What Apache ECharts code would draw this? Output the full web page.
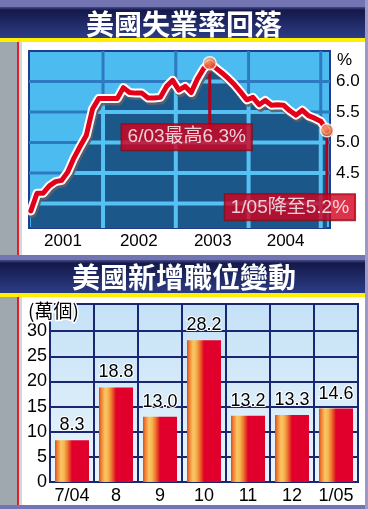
<!DOCTYPE html>
<html><head><meta charset="utf-8">
<script src="https://cdn.jsdelivr.net/npm/echarts@6/dist/echarts.min.js"></script>
<style>html,body{margin:0;padding:0;background:#fff}#c{width:368px;height:509px}</style>
</head><body><div id="c"></div>
<script>
// ---------- data ----------
// monthly unemployment rate (%), index 0 = Jan 2001 ... index 48 = Jan 2005
const rate = [3.88,4.17,4.17,4.29,4.36,4.38,4.52,4.75,4.94,5.12,5.55,5.72,
              5.72,5.72,5.72,5.90,5.82,5.81,5.81,5.73,5.73,5.74,5.92,6.02,
              5.86,5.92,5.82,6.04,6.21,6.30,6.22,6.14,6.05,5.95,5.83,5.70,
              5.74,5.62,5.69,5.61,5.62,5.61,5.52,5.45,5.53,5.44,5.40,5.35,
              5.20];
const years = ['2001','2002','2003','2004'];
const yearLabelAt = [5.2, 17.5, 29.5, 41.3];
const yearGridAt = [11.7, 23.5, 35.3, 47.0];
const rateTicks = [4.0, 4.5, 5.0, 5.5, 6.0];
const rateLabels = [4.5, 5.0, 5.5, 6.0];
const calloutIdx = [29, 48];
const calloutText = ['6/03最高6.3%', '1/05降至5.2%'];
const calloutLineEnd = [5.2, 4.0];

const jobMonths = ['7/04','8','9','10','11','12','1/05'];
const jobs = [8.3, 18.8, 13.0, 28.2, 13.2, 13.3, 14.6];
const jobTicks = [0, 5, 10, 15, 20, 25, 30];

// axis ranges
const xMin = -0.3, xMax = 48.5, rMin = 3.6, rMax = 6.5;

// ---------- helpers ----------
const FF = "'Liberation Sans', Arial, 'Noto Sans CJK TC', sans-serif";
const FFT = "'Noto Sans CJK TC', 'Noto Sans CJK SC', sans-serif";
const rateData = rate.map((v, i) => [i, v]);
function rateAt(x) {
  const i = Math.max(0, Math.min(Math.floor(x), rate.length - 2));
  const t = x - i;
  return rate[i] + (rate[i + 1] - rate[i]) * t;
}
const bandGrad = {type: 'linear', x: 0, y: 0, x2: 0, y2: 1, colorStops: [
  {offset: 0, color: '#454b8a'}, {offset: 0.1, color: '#15194a'}, {offset: 1, color: '#2c3d86'}]};
const lav = '#7374b2';
const bg = (x, y, w, h, fill) => ({type: 'rect', z: -10, silent: true, shape: {x, y, width: w, height: h}, style: {fill}});
const barGrad = {type: 'linear', x: 0, y: 0, x2: 1, y2: 0, colorStops: [
  {offset: 0, color: '#e4481c'}, {offset: 0.08, color: '#ef8a36'}, {offset: 0.18, color: '#f8c866'},
  {offset: 0.27, color: '#f6b44e'}, {offset: 0.36, color: '#ef7a34'}, {offset: 0.44, color: '#e63a22'},
  {offset: 0.5, color: '#e0002b'}, {offset: 1, color: '#e0002b'}]};
const titleStyle = {color: '#ffffff', fontSize: 28, fontWeight: 'bold', fontFamily: FFT,
  textShadowColor: 'rgba(0,0,0,0.85)', textShadowOffsetX: 2, textShadowOffsetY: 2, textShadowBlur: 0};
const frame = [
  bg(0, 0, 368, 509, '#ffffff'), bg(0, 0, 368, 7, lav), bg(0, 7, 368, 31, bandGrad), bg(0, 38, 368, 4, '#fff000'),
  bg(0, 42, 17, 213, '#9fa7af'), bg(17, 42, 2, 213, '#e0202c'), bg(19, 42, 3, 213, '#d3d7db'),
  bg(0, 255, 368, 5, lav), bg(0, 260, 368, 33, bandGrad), bg(0, 293, 368, 4, '#fff000'),
  bg(0, 297, 17, 208, '#9fa7af'), bg(17, 297, 2, 208, '#e0202c'), bg(19, 297, 3, 208, '#d3d7db'),
  bg(0, 505, 368, 4, lav), bg(365, 0, 3, 509, '#9a9bcc')
];

// grid lines of the top chart, drawn as line series on the chart's axes
function seg(points, color, z, w) {
  return {type: 'line', xAxisIndex: 0, yAxisIndex: 0, data: points, symbol: 'none', silent: true, z: z,
    lineStyle: {color: color, width: w}};
}
const darkGrid = [];   // whole plot, seen above the curve
yearGridAt.forEach(g => darkGrid.push(seg([[g, rMin], [g, rMax]], '#2d7ac0', 3, 3)));
rateTicks.forEach(h => darkGrid.push(seg([[xMin, h], [xMax, h]], '#2d7ac0', 3, 3)));
const lightGrid = [];  // only below the curve, seen on the dark area
const cyan = '#55c2f3';
yearGridAt.forEach(g => lightGrid.push(seg([[g, rMin], [g, rateAt(g)]], cyan, 5, 4)));
rateTicks.forEach(h => {
  let s = rate[0] >= h ? 0 : null;
  for (let i = 0; i < rate.length - 1; i++) {
    const a = rate[i], b = rate[i + 1];
    if (a < h && b >= h) s = i + (h - a) / (b - a);
    if (a >= h && b < h && s !== null) {
      const e = i + (a - h) / (a - b);
      lightGrid.push(seg([[s, h], [e, h]], cyan, 5, 4));
      s = null;
    }
  }
  if (s !== null) lightGrid.push(seg([[s, h], [rate.length - 1, h]], cyan, 5, 4));
});

const chart = echarts.init(document.getElementById('c'), null, {renderer: 'canvas'});
chart.setOption({
  animation: false,
  backgroundColor: '#ffffff',
  graphic: frame,
  title: [
    {text: '美國失業率回落', left: 'center', top: 10, padding: 0, textStyle: titleStyle},
    {text: '美國新增職位變動', left: 'center', top: 263, padding: 0, textStyle: titleStyle},
    {text: '%', left: 337, top: 52, padding: 0, textStyle: {color: '#000', fontSize: 17, fontWeight: 'normal', fontFamily: FF}},
    {text: '(萬個)', left: 28, top: 301, padding: 0, z: 20, textStyle: {color: '#000', fontSize: 19, fontWeight: 'normal', fontFamily: FFT,
      textBorderColor: '#ffffff', textBorderWidth: 3}}
  ],
  grid: [
    {left: 29, top: 51, width: 301, height: 177, show: true, backgroundColor: '#4cbcf0',
     borderColor: '#1f3c8e', borderWidth: 2},
    {left: 50, top: 304, width: 308, height: 178, show: true,
     backgroundColor: {type: 'linear', x: 0, y: 0, x2: 0, y2: 1, colorStops: [
       {offset: 0, color: '#c4e1f6'}, {offset: 1, color: '#eaf5fc'}]},
     borderColor: '#1b2670', borderWidth: 2}
  ],
  xAxis: [
    {gridIndex: 0, type: 'value', min: xMin, max: xMax,
     axisLine: {show: false}, axisTick: {show: false}, splitLine: {show: false},
     axisLabel: {customValues: yearLabelAt, margin: 5, color: '#000', fontSize: 17, fontFamily: FF,
       formatter: v => {
         let best = 0;
         yearLabelAt.forEach((p, i) => { if (Math.abs(p - v) < Math.abs(yearLabelAt[best] - v)) best = i; });
         return years[best];
       }}},
    {gridIndex: 1, type: 'category', data: jobMonths, boundaryGap: true,
     axisLine: {show: true, lineStyle: {color: '#1b2670', width: 2}}, axisTick: {show: false},
     splitLine: {show: true, interval: 0, lineStyle: {color: '#1b2670', width: 2}},
     axisLabel: {interval: 0, margin: 5, color: '#000', fontSize: 18, fontFamily: FF}}
  ],
  yAxis: [
    {gridIndex: 0, type: 'value', position: 'right', min: rMin, max: rMax,
     axisLine: {show: false}, axisTick: {show: false}, splitLine: {show: false},
     axisLabel: {customValues: rateLabels, margin: 6, color: '#000', fontSize: 17, fontFamily: FF,
       formatter: v => v.toFixed(1)}},
    {gridIndex: 1, type: 'value', min: 0, max: 35.4,
     axisLine: {show: true, lineStyle: {color: '#1b2670', width: 2}},
     axisTick: {show: false, customValues: jobTicks},
     splitLine: {show: true, lineStyle: {color: '#1b2670', width: 2}},
     axisLabel: {customValues: jobTicks, margin: 3, color: '#000', fontSize: 18, fontFamily: FF}}
  ],
  series: [
    ...darkGrid,
    {type: 'line', xAxisIndex: 0, yAxisIndex: 0, data: rateData, symbol: 'none', z: 4,
     lineStyle: {width: 0}, areaStyle: {color: '#1b5789', opacity: 1, origin: 'start'}, silent: true},
    ...lightGrid,
    {type: 'line', xAxisIndex: 0, yAxisIndex: 0, symbol: 'none', z: 6, silent: true,
     data: [[calloutIdx[0], rate[calloutIdx[0]]], [calloutIdx[0], calloutLineEnd[0]]],
     lineStyle: {color: '#b3001b', width: 3}},
    {type: 'line', xAxisIndex: 0, yAxisIndex: 0, symbol: 'none', z: 6, silent: true,
     data: [[calloutIdx[1], rate[calloutIdx[1]]], [calloutIdx[1], calloutLineEnd[1]]],
     lineStyle: {color: '#b3001b', width: 3}},
    {type: 'line', xAxisIndex: 0, yAxisIndex: 0, data: rateData, symbol: 'none', z: 7, silent: true,
     lineStyle: {color: '#ffffff', width: 9, join: 'round', cap: 'round',
       shadowColor: 'rgba(95,95,105,0.9)', shadowOffsetX: 1.5, shadowOffsetY: 2.5, shadowBlur: 0}},
    {type: 'line', xAxisIndex: 0, yAxisIndex: 0, data: rateData, symbol: 'none', z: 8, silent: true,
     lineStyle: {color: '#e2001a', width: 5, join: 'round', cap: 'round'}},
    {type: 'scatter', xAxisIndex: 0, yAxisIndex: 0, z: 9, symbol: 'circle', symbolSize: 13,
     data: [
       {value: [calloutIdx[0], rate[calloutIdx[0]]], label: {offset: [-23, 74]}},
       {value: [calloutIdx[1], rate[calloutIdx[1]]], label: {offset: [-37, 77]}}
     ],
     itemStyle: {borderColor: '#ffffff', borderWidth: 1.5,
       color: {type: 'radial', x: 0.38, y: 0.35, r: 0.7, colorStops: [
         {offset: 0, color: '#ffb585'}, {offset: 1, color: '#d63a12'}]}},
     label: {show: true, position: 'inside', formatter: p => calloutText[p.dataIndex],
       color: '#ffffff', fontSize: 19, fontFamily: FF, backgroundColor: '#d3001d',
       borderColor: '#7d0a14', borderWidth: 1, padding: [4, 6, 3, 6]}},
    {type: 'bar', xAxisIndex: 1, yAxisIndex: 1, data: jobs, barWidth: 34, z: 3,
     itemStyle: {color: barGrad},
     label: {show: true, position: 'top', distance: 6, color: '#000', fontSize: 18, fontFamily: FF,
       textBorderColor: '#ffffff', textBorderWidth: 2, formatter: p => p.value.toFixed(1)}}
  ]
});
</script></body></html>
